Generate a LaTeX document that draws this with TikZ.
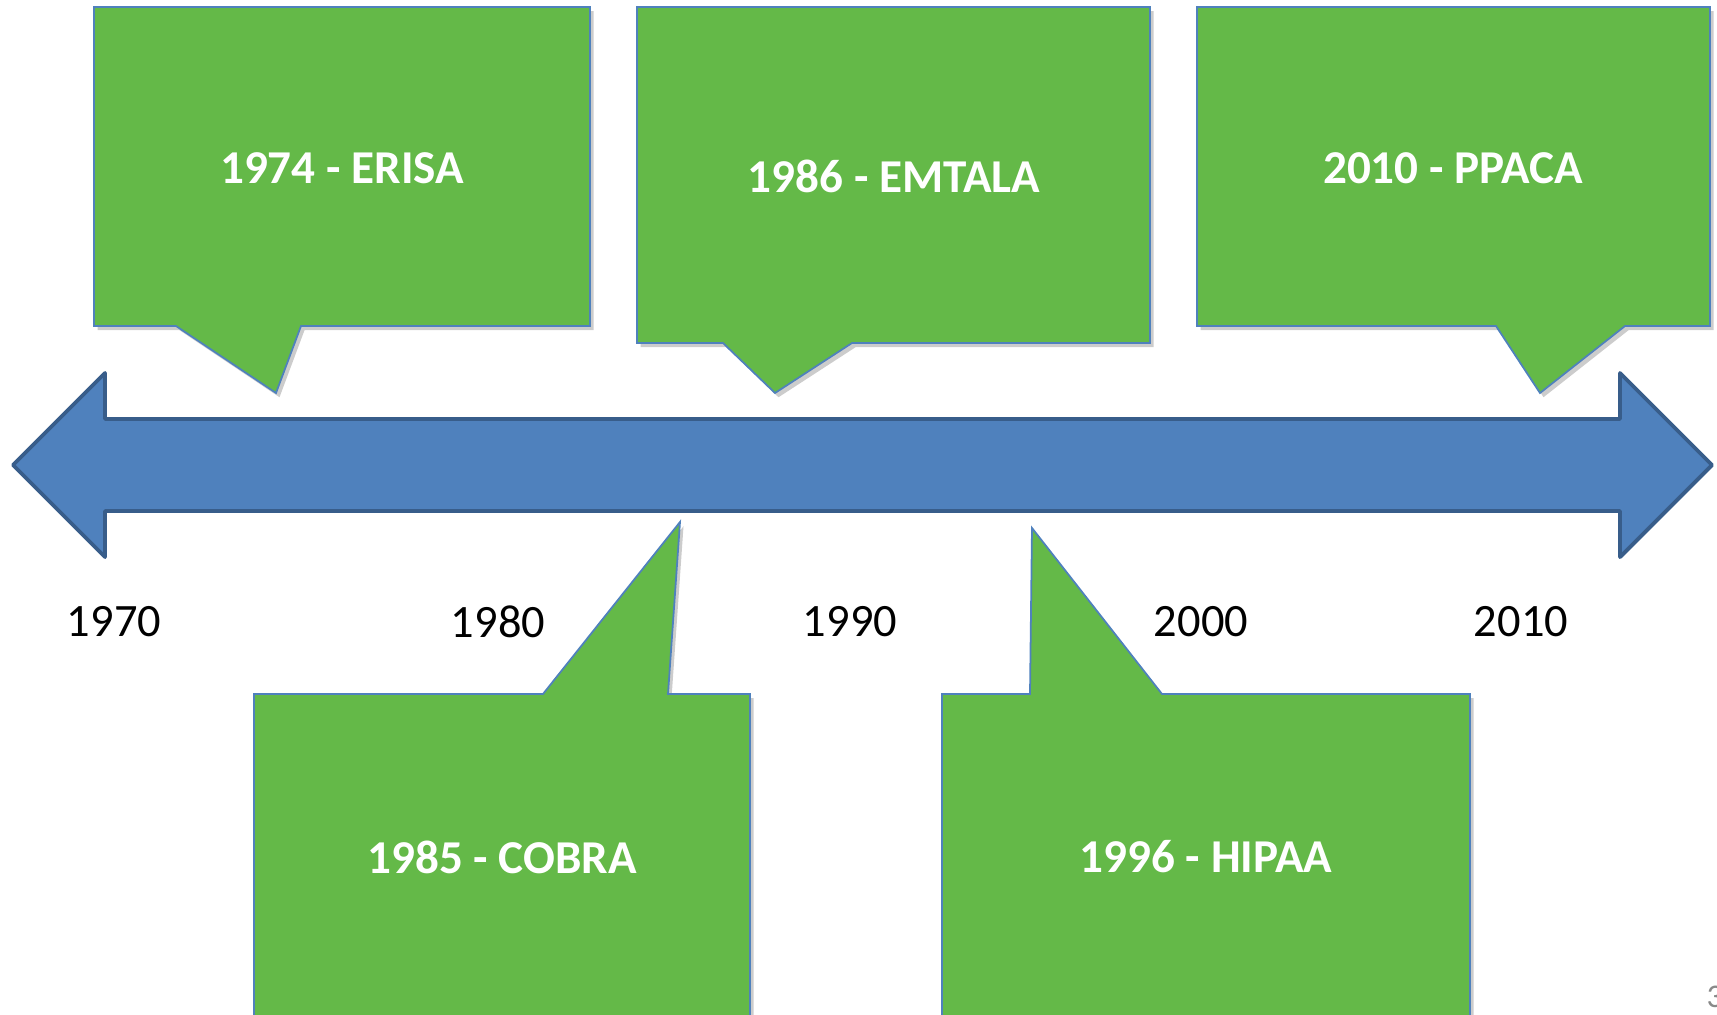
\documentclass[tikz,border=0pt]{standalone}
\usepackage{fontspec}
\setmainfont{Carlito}
\usepackage{tikz}
\usetikzlibrary{positioning,shadows}

\definecolor{boxgreen}{RGB}{100,185,72}
\definecolor{edgeblue}{RGB}{79,129,189}
\definecolor{arrowblue}{RGB}{79,129,189}
\definecolor{arrowedge}{RGB}{56,93,138}
\definecolor{pagegray}{RGB}{137,137,137}

\begin{document}
\begin{tikzpicture}[x=0.01cm,y=-0.01cm,
	callout/.style={fill=boxgreen,draw=edgeblue,line width=0.5pt,
		drop shadow={shadow xshift=1pt,shadow yshift=-1.2pt,opacity=0.2,fill=black}},
	event/.style={text=white,font=\fontsize{13.4pt}{16pt}\selectfont\bfseries},
	year/.style={text=black,font=\fontsize{13.2pt}{16pt}\selectfont}]
	\useasboundingbox (0,0) rectangle (1717,1014);
	\clip (0,0) rectangle (1717,1014);
	% timeline arrow
	\draw[fill=arrowblue,draw=arrowedge,line width=1.1pt,line join=round] (13,465) -- (105,373) -- (105,419) -- (1620,419) -- (1620,373) -- (1712,465) -- (1620,557) -- (1620,511) -- (105,511) -- (105,557) -- cycle;
	% callouts above the line
	\draw[callout] (94,7) -- (590,7) -- (590,326) -- (301,326) -- (276,393) -- (176,326) -- (94,326) -- cycle;
	\draw[callout] (637,7) -- (1150,7) -- (1150,343) -- (852,343) -- (775,393) -- (723,343) -- (637,343) -- cycle;
	\draw[callout] (1197,7) -- (1710,7) -- (1710,326) -- (1625,326) -- (1540,393) -- (1496,326) -- (1197,326) -- cycle;
	% callouts below the line
	\draw[callout] (254,1040) -- (254,694) -- (543,694) -- (680,522) -- (668,694) -- (750,694) -- (750,1040) -- cycle;
	\draw[callout] (942,1040) -- (942,694) -- (1030,694) -- (1032,528) -- (1162,694) -- (1470,694) -- (1470,1040) -- cycle;
	\node[event] (erisa) at (342,168) {1974 - ERISA};
	\node[event] (emtala) at (894,176) {1986 - EMTALA};
	\node[event] (ppaca) at (1453,168) {2010 - PPACA};
	\node[event] (cobra) at (502,857) {1985 - COBRA};
	\node[event] (hipaa) at (1206,857) {1996 - HIPAA};
	\node[year] (y1970) at (114,622) {1970};
	\node[year] (y1980) at (498,622) {1980};
	\node[year] (y1990) at (850,622) {1990};
	\node[year] (y2000) at (1201,622) {2000};
	\node[year] (y2010) at (1521,622) {2010};
	\node[anchor=west,inner sep=0pt,text=pagegray,font=\fontsize{9.4pt}{11pt}\selectfont] (page) at (1706,997) {3};
\end{tikzpicture}
\end{document}
